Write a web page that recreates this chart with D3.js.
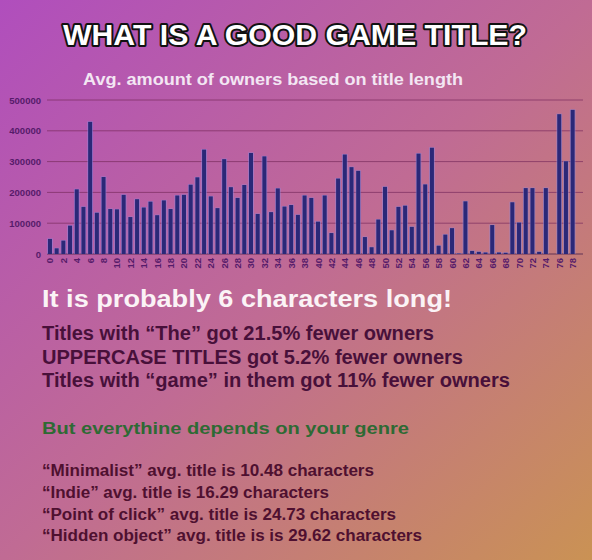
<!DOCTYPE html>
<html>
<head>
  <meta charset="UTF-8">
	<style>
	body {
		margin: 0;
		background: #c06a95;
	}
	svg text {
		font-family: 'Liberation Sans', Arial, sans-serif;
	}
	.tick-label {
		font-size: 9.5px;
		font-weight: bold;
		fill: #561b6a;
	}
	</style>
</head>
<body>
	<div id="chart"></div>
	<script src="https://cdn.jsdelivr.net/npm/d3@7"></script>
	<script>

	// title length (characters) on the x axis
	let titleLengths = d3.range(0, 79);

	// avg. amount of owners for each title length
	let avgOwners = [
		49000, 18500, 43500, 92000, 210000, 153000, 429000, 134000, 250000, 146000,
		145000, 192000, 120000, 178000, 151000, 170000, 126000, 174000, 146000, 190000,
		192000, 225000, 249000, 339000, 187000, 149000, 308000, 217000, 182000, 224000,
		328000, 130000, 317000, 136000, 213000, 154000, 159000, 127000, 190000, 182000,
		105000, 190000, 68000, 245000, 323000, 282000, 270000, 55000, 22000, 112000,
		218000, 77000, 153000, 157000, 88000, 326000, 226000, 345000, 27000, 63000,
		84000, 1500, 171000, 10000, 7000, 5000, 94000, 5000, 4000, 168000,
		102000, 214000, 214000, 7000, 214000, 0, 454000, 301000, 468000
	];

	let yTicks = [0, 100000, 200000, 300000, 400000, 500000];
	let xTicks = titleLengths.filter(d => d % 2 === 0);

	let heading = "WHAT IS A GOOD GAME TITLE?";
	let subHeading = "Avg. amount of owners based on title length";
	let mainFinding = "It is probably 6 characters long!";
	let findings = [
		"Titles with \u201CThe\u201D got 21.5% fewer owners",
		"UPPERCASE TITLES got 5.2% fewer owners",
		"Titles with \u201Cgame\u201D in them got 11% fewer owners"
	];
	let genreNote = "But everythine depends on your genre";
	let genreLines = [
		"\u201CMinimalist\u201D avg. title is 10.48 characters",
		"\u201CIndie\u201D avg. title is 16.29 characters",
		"\u201CPoint of click\u201D avg. title is 24.73 characters",
		"\u201CHidden object\u201D avg. title is is 29.62 characters"
	];

	let width = 592, height = 560;

	// measured line widths of the text block (px)
	let findingWidths = [392, 421, 468];
	let genreWidths = [332, 287, 354, 380];

	let svg = d3.select("#chart")
		.append("svg")
		.attr("width", width)
		.attr("height", height);

	// diagonal purple -> orange background
	let grad = svg.append("defs")
		.append("linearGradient")
		.attr("id", "bg")
		.attr("x1", 0).attr("y1", 0)
		.attr("x2", 1).attr("y2", 1);
	grad.append("stop").attr("offset", "0%").attr("stop-color", "#b04ebd");
	grad.append("stop").attr("offset", "50%").attr("stop-color", "#c06b94");
	grad.append("stop").attr("offset", "100%").attr("stop-color", "#ca9254");

	svg.append("rect")
		.attr("width", width)
		.attr("height", height)
		.attr("fill", "url(#bg)");

	// big outlined heading
	svg.append("text")
		.attr("x", 295)
		.attr("y", 45)
		.attr("text-anchor", "middle")
		.attr("textLength", 464)
		.attr("lengthAdjust", "spacingAndGlyphs")
		.style("font-size", "30px")
		.style("font-weight", "bold")
		.style("fill", "#fff")
		.style("stroke", "#111")
		.style("stroke-width", 4)
		.style("stroke-linejoin", "round")
		.style("paint-order", "stroke")
		.text(heading);

	svg.append("text")
		.attr("x", 83)
		.attr("y", 85)
		.attr("textLength", 380)
		.attr("lengthAdjust", "spacingAndGlyphs")
		.style("font-size", "17px")
		.style("font-weight", "bold")
		.style("fill", "#f3e6f3")
		.text(subHeading);

	let x = d3.scaleBand()
		.domain(titleLengths)
		.range([46.6, 576])
		.paddingInner(0.4)
		.paddingOuter(0.2);

	let y = d3.scaleLinear()
		.domain([0, 500000])
		.range([254, 100]);

	let chart = svg.append("g");

	// gridlines + y labels
	chart.selectAll(".grid")
		.data(yTicks)
		.enter()
		.append("line")
		.attr("x1", 47)
		.attr("x2", 583)
		.attr("y1", d => y(d))
		.attr("y2", d => y(d))
		.attr("stroke", d => d === 0 ? "#5a2a50" : "#7a2c5e")
		.attr("stroke-opacity", d => d === 0 ? 0.9 : 0.7)
		.attr("stroke-width", 1);

	chart.selectAll(".ylab")
		.data(yTicks)
		.enter()
		.append("text")
		.attr("class", "tick-label")
		.attr("x", 41)
		.attr("y", d => y(d) + 3.5)
		.attr("text-anchor", "end")
		.text(d => d);

	// soft light edge behind each bar
	chart.selectAll(".glow")
		.data(titleLengths)
		.enter()
		.append("rect")
		.attr("x", d => x(d) - 0.8)
		.attr("width", x.bandwidth() + 1.6)
		.attr("y", d => y(avgOwners[d]) - 0.5)
		.attr("height", d => y(0) - y(avgOwners[d]) + 0.5)
		.attr("fill", "#8c8ce6")
		.attr("opacity", d => avgOwners[d] > 0 ? 0.55 : 0);

	chart.selectAll(".bar")
		.data(titleLengths)
		.enter()
		.append("rect")
		.attr("x", d => x(d))
		.attr("width", x.bandwidth())
		.attr("y", d => y(avgOwners[d]))
		.attr("height", d => y(0) - y(avgOwners[d]))
		.attr("fill", "#2b2878");

	chart.selectAll(".xlab")
		.data(xTicks)
		.enter()
		.append("text")
		.attr("class", "tick-label")
		.attr("text-anchor", "end")
		.attr("transform", d => "translate(" + (x(d) + x.bandwidth() / 2 + 3.5) + ",258) rotate(-90)")
		.text(d => d);

	// text block under the chart
	svg.append("text")
		.attr("x", 42)
		.attr("y", 307)
		.attr("textLength", 410)
		.attr("lengthAdjust", "spacingAndGlyphs")
		.style("font-size", "23px")
		.style("font-weight", "bold")
		.style("fill", "#fbf3f6")
		.text(mainFinding);

	svg.selectAll(".finding")
		.data(findings)
		.enter()
		.append("text")
		.attr("x", 42)
		.attr("y", (d, i) => 340 + i * 23.5)
		.attr("textLength", (d, i) => findingWidths[i])
		.attr("lengthAdjust", "spacingAndGlyphs")
		.style("font-size", "19.5px")
		.style("font-weight", "bold")
		.style("fill", "#48103a")
		.text(d => d);

	svg.append("text")
		.attr("x", 42)
		.attr("y", 434)
		.attr("textLength", 367)
		.attr("lengthAdjust", "spacingAndGlyphs")
		.style("font-size", "17px")
		.style("font-weight", "bold")
		.style("fill", "#2e6a34")
		.text(genreNote);

	svg.selectAll(".genre")
		.data(genreLines)
		.enter()
		.append("text")
		.attr("x", 42)
		.attr("y", (d, i) => 476 + i * 21.8)
		.attr("textLength", (d, i) => genreWidths[i])
		.attr("lengthAdjust", "spacingAndGlyphs")
		.style("font-size", "16px")
		.style("font-weight", "bold")
		.style("fill", "#4f1030")
		.text(d => d);

	</script>
</body>
</html>
